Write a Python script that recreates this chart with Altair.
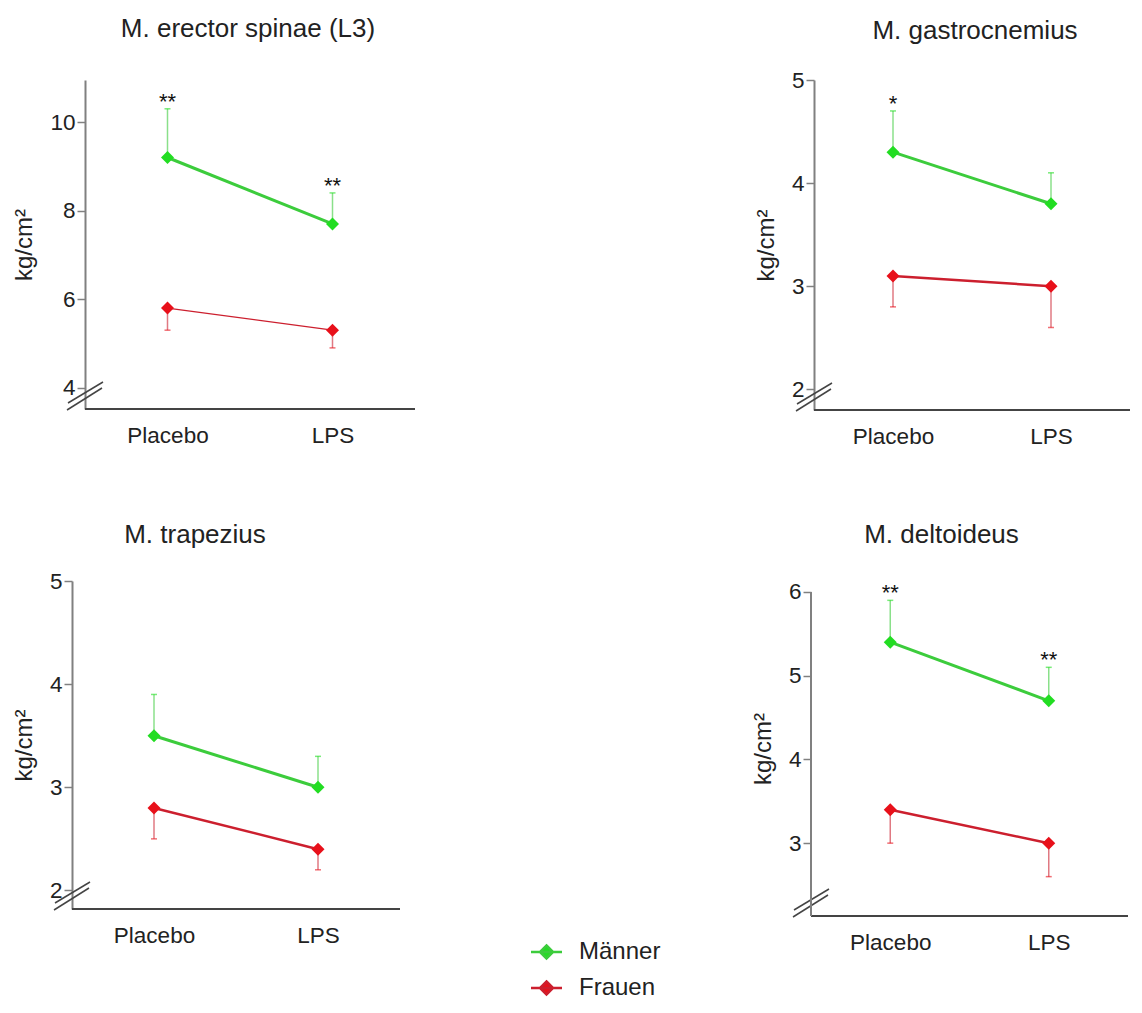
import altair as alt
import pandas as pd

panel_titles = ["M. erector spinae (L3)", "M. gastrocnemius", "M. trapezius", "M. deltoideus"]
conditions = ["Placebo", "LPS"]
groups = ["Männer", "Frauen"]
maenner_mean = [[9.2, 7.7], [4.3, 3.8], [3.5, 3.0], [5.4, 4.7]]
maenner_err_top = [[10.3, 8.4], [4.7, 4.1], [3.9, 3.3], [5.9, 5.1]]
frauen_mean = [[5.8, 5.3], [3.1, 3.0], [2.8, 2.4], [3.4, 3.0]]
frauen_err_bottom = [[5.3, 4.9], [2.8, 2.6], [2.5, 2.2], [3.0, 2.6]]
stars = [["**", "**"], ["*", ""], ["", ""], ["**", "**"]]
y_ticks = [[4, 6, 8, 10], [2, 3, 4, 5], [2, 3, 4, 5], [3, 4, 5, 6]]
y_domains = [[3.52, 10.95], [1.8, 5.0], [1.82, 5.0], [2.13, 6.131]]
y_axis_top = [None, None, None, 6]

# layout / style (not data)
widths = [330, 316, 315, 317]
heights = [329, 330, 328, 335]
axis_shift = [0, 0, 13, 0]
title_gap = [43, 41, 38, 38]
title_dx = [-2, 3, -41, -28]
frauen_line_w = [1.3, 2.5, 2.5, 2.5]
LINE_G, LINE_R = "#3ccc3c", "#cc1f2e"
MARK_G, MARK_R = "#22dd22", "#e8101a"
FONT = "Liberation Sans"
TXT = "#222222"

legend = alt.Legend(
    title=None, orient="none", legendX=449.5, legendY=860, direction="vertical",
    symbolType="M-2.07,0H2.07M0,-0.87L0.87,0L0,0.87L-0.87,0Z", symbolSize=225,
    symbolStrokeWidth=2.5, symbolOpacity=1, labelFontSize=24, labelFont=FONT,
    labelColor=TXT, labelOffset=20.5, rowPadding=12, padding=0,
)


def panel(i):
    rows = []
    for j, c in enumerate(conditions):
        rows.append(dict(cond=c, group="Männer", mean=maenner_mean[i][j],
                         err=maenner_err_top[i][j], star=stars[i][j]))
        rows.append(dict(cond=c, group="Frauen", mean=frauen_mean[i][j],
                         err=frauen_err_bottom[i][j], star=""))
    df = pd.DataFrame(rows)
    w, h, s = widths[i], heights[i], axis_shift[i]
    x = alt.X("cond:N", sort=conditions,
              scale=alt.Scale(type="point", padding=0.5, range=[-s, w]),
              axis=alt.Axis(title=None, ticks=False, labelAngle=0, labelFontSize=22.5,
                            labelFont=FONT, labelColor=TXT, labelPadding=15, domain=False))
    y = alt.Y("mean:Q", scale=alt.Scale(domain=y_domains[i], nice=False, zero=False),
              axis=alt.Axis(values=y_ticks[i], format="d", title="kg/cm²", titleFontSize=24,
                            titleFont=FONT, titleFontWeight="normal", titleColor=TXT,
                            titlePadding=13, labelFontSize=22.5, labelFont=FONT,
                            labelColor=TXT, labelPadding=2, tickSize=8, offset=s,
                            tickColor="#808080", tickWidth=1.5, domainColor="#808080",
                            domainWidth=2, domain=y_axis_top[i] is None, grid=False))
    stroke = alt.Stroke("group:N", scale=alt.Scale(domain=groups, range=[LINE_G, LINE_R]),
                        legend=legend)
    fill = alt.Fill("group:N", scale=alt.Scale(domain=groups, range=[MARK_G, MARK_R]),
                    legend=legend)
    base = alt.Chart(df)
    line_m = base.transform_filter(alt.datum.group == "Männer").mark_line(strokeWidth=3).encode(
        x=x, y=y, stroke=stroke)
    line_f = base.transform_filter(alt.datum.group == "Frauen").mark_line(
        strokeWidth=frauen_line_w[i]).encode(x=x, y=y, stroke=stroke)
    err = base.mark_rule(strokeWidth=1.5, opacity=0.6).encode(
        x=x, y="mean:Q", y2="err:Q", stroke=stroke)
    cap = base.mark_tick(thickness=1.5, size=6, opacity=0.6).encode(
        x=x, y="err:Q", fill=fill)
    pts = base.mark_point(shape="diamond", filled=True, size=170, opacity=1).encode(
        x=x, y="mean:Q", fill=fill)
    txt = base.mark_text(fontSize=22, font=FONT, color="#111111", baseline="alphabetic").encode(
        x=x, y="err:Q", text="star:N")
    one = pd.DataFrame({"title": [panel_titles[i]]})
    title = alt.Chart(one).mark_text(fontSize=26, font=FONT, color=TXT, baseline="alphabetic",
                                     align="center").encode(
        x=alt.value((w - s) / 2 + title_dx[i]), y=alt.value(-title_gap[i]), text="title:N")
    xdom = alt.Chart(one).mark_rule(color="#444444", strokeWidth=2).encode(
        x=alt.value(-s), x2=alt.value(w), y=alt.value(h))
    brk1 = alt.Chart(one).mark_rule(color="#444444", strokeWidth=1.5).encode(
        x=alt.value(-s - 17), x2=alt.value(-s + 18), y=alt.value(h - 6), y2=alt.value(h - 27))
    brk2 = alt.Chart(one).mark_rule(color="#444444", strokeWidth=1.5).encode(
        x=alt.value(-s - 18), x2=alt.value(-s + 17), y=alt.value(h + 1), y2=alt.value(h - 21))
    layers = [xdom, line_m, line_f, err, cap, pts, txt, title, brk1, brk2]
    if y_axis_top[i] is not None:
        dom = alt.Chart(one).mark_rule(color="#808080", strokeWidth=2).encode(
            x=alt.value(-s), y=alt.datum(y_axis_top[i]), y2=alt.value(h))
        layers.append(dom)
    return alt.layer(*layers).properties(width=w, height=h)


row1 = alt.hconcat(panel(0), panel(1), spacing=338)
row2 = alt.hconcat(panel(2), panel(3), spacing=338)
chart = alt.concat(row1, row2, columns=1, spacing=74).properties(
    padding={"left": 4, "top": 8, "right": 0, "bottom": 0}
).configure(background="white").configure_view(stroke=None)
chart.save("out.html", embed_options={"renderer": "svg", "actions": False})
